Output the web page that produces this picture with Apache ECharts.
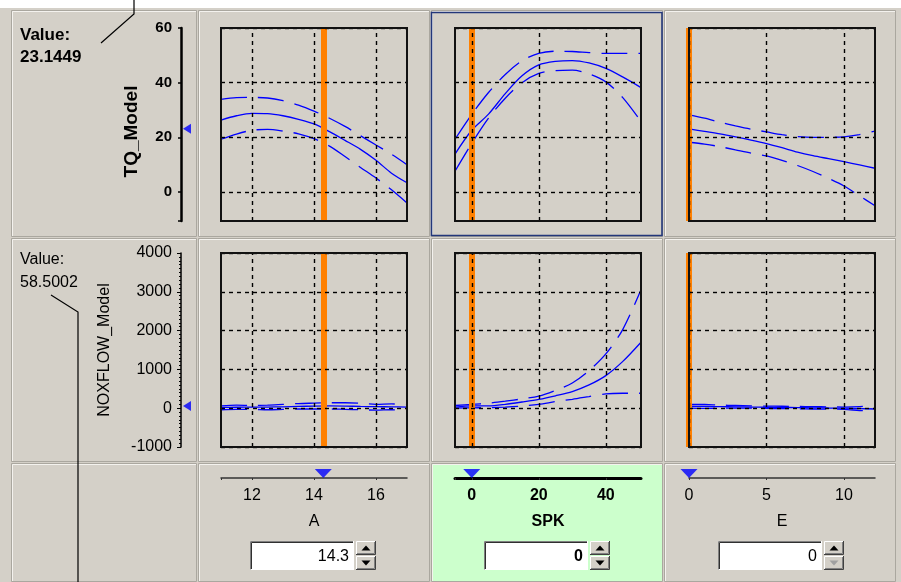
<!DOCTYPE html>
<html><head><meta charset="utf-8">
<script src="https://cdn.jsdelivr.net/npm/echarts@6/dist/echarts.min.js"></script>
<style>html,body{margin:0;padding:0;background:#d4d0c8}#c{width:901px;height:582px}</style>
</head><body><div id="c"></div><script>
// ---------- data ----------
const inputNames = ['A', 'SPK', 'E'];
const inputValues = [14.3, 0, 0];
const inputValueLabels = ['14.3', '0', '0'];
const inputRanges = [[11, 17], [-5, 50.5], [0, 12]];
const aTicks = [12, 14, 16];
const spkTicks = [0, 20, 40];
const eTicks = [0, 5, 10];
const outputNames = ['TQ_Model', 'NOXFLOW_Model'];
const outputValues = [23.1449, 58.5002];
const outputValueLabels = ['23.1449', '58.5002'];
const outputRanges = [[-10.6, 60], [-1000, 4000]];
const tqTicks = [0, 20, 40, 60];
const noxTicks = [-1000, 0, 1000, 2000, 3000, 4000];

const aX = [11, 11.5, 12, 12.5, 13, 13.5, 14, 14.5, 15, 15.5, 16, 16.5, 17];
const spkX = [-5, 0, 5, 10, 15, 20, 25, 30, 35, 40, 45, 50.5];
const eX = [0, 1, 2, 3, 4, 5, 6, 7, 8, 9, 10, 11, 12];

const tqA_mean  = [26.3, 27.9, 28.8, 28.7, 27.9, 26.6, 24.9, 22.1, 18.9, 15.6, 11.6, 6.9, 3.4];
const tqA_upper = [33.9, 34.5, 34.6, 34.4, 33.4, 31.8, 29.6, 27.0, 24.0, 20.6, 17.2, 13.8, 10.0];
const tqA_lower = [19.3, 21.2, 22.6, 22.9, 22.3, 21.3, 19.5, 16.8, 13.0, 9.0, 5.1, 0.8, -4.0];

const tqS_mean  = [13.9, 22.6, 28.5, 36.0, 42.5, 46.5, 47.8, 48.1, 47.2, 45.2, 42.1, 38.2];
const tqS_upper = [19.3, 28.4, 36.4, 43.0, 48.0, 50.7, 51.5, 51.4, 51.0, 50.7, 50.7, 50.7];
const tqS_lower = [7.6, 17.8, 27.0, 34.3, 40.0, 43.4, 44.4, 44.6, 43.2, 40.3, 34.6, 25.8];

const tqE_mean  = [23.1, 22.2, 21.3, 20.2, 19.0, 17.7, 16.2, 14.6, 13.3, 12.2, 11.1, 9.9, 8.7];
const tqE_upper = [28.2, 27.0, 25.5, 24.2, 23.0, 22.0, 21.0, 20.3, 20.0, 20.0, 20.2, 21.0, 22.3];
const tqE_lower = [18.2, 17.5, 16.6, 15.4, 14.2, 13.2, 11.6, 9.7, 7.5, 5.0, 2.2, -1.4, -5.0];

const noxA_mean  = [20, 25, 28, 30, 35, 45, 55, 60, 55, 45, 40, 35, 30];
const noxA_upper = [60, 80, 70, 80, 100, 120, 130, 140, 140, 130, 100, 110, 90];
const noxA_lower = [-40, -30, -30, -40, -30, -20, -20, -20, -30, -40, -50, -40, -50];

const noxS_mean  = [30, 58.5, 60, 100, 160, 227, 320, 430, 600, 840, 1200, 1700];
const noxS_upper = [70, 100, 130, 180, 240, 313, 460, 650, 970, 1400, 2020, 3050];
const noxS_lower = [0, 10, 15, 30, 55, 100, 170, 230, 300, 370, 385, 385];

const noxE_mean  = [50, 45, 40, 35, 30, 25, 20, 15, 10, 5, 0, -10, -20];
const noxE_upper = [100, 95, 80, 70, 60, 55, 50, 45, 40, 35, 30, 40, 70];
const noxE_lower = [0, -5, 0, 0, 0, -5, -10, -15, -20, -25, -30, -60, -80];

// ---------- assembly ----------
const inputX = [aX, spkX, eX];
const inputTicks = [aTicks, spkTicks, eTicks];
const outputTicks = [tqTicks, noxTicks];
const curves = [
  [[tqA_mean, tqA_upper, tqA_lower], [tqS_mean, tqS_upper, tqS_lower], [tqE_mean, tqE_upper, tqE_lower]],
  [[noxA_mean, noxA_upper, noxA_lower], [noxS_mean, noxS_upper, noxS_lower], [noxE_mean, noxE_upper, noxE_lower]]
];

const PLOT_LEFT = [221, 455, 689];
const PLOT_W = 186;
const PLOT_TOP = [28, 253];
const PLOT_H = [193, 194];
const GREEN = '#ccffcc';
const PANEL = '#d4d0c8';
const BLUE = '#0000ff';
const FONT = 'Liberation Sans, Arial, sans-serif';

const grid = [], xAxis = [], yAxis = [], series = [], graphic = [];
const zip = (xs, ys) => xs.map((x, i) => [x, ys[i]]);
const plain = v => String(v);

for (let r = 0; r < 2; r++) {
  for (let c = 0; c < 3; c++) {
    const gi = grid.length;
    grid.push({ left: PLOT_LEFT[c], top: PLOT_TOP[r], width: PLOT_W, height: PLOT_H[r],
      show: true, backgroundColor: c === 1 ? GREEN : '#ffffff', borderWidth: 0 });
    xAxis.push({ gridIndex: gi, type: 'value', min: inputRanges[c][0], max: inputRanges[c][1], show: false });
    yAxis.push({ gridIndex: gi, type: 'value', min: outputRanges[r][0], max: outputRanges[r][1], show: false });
    // current input value marker
    series.push({ type: 'line', xAxisIndex: gi, yAxisIndex: gi, data: [], z: 1, silent: true,
      markLine: { silent: true, symbol: ['none', 'none'], label: { show: false }, animation: false,
        lineStyle: { color: '#ff8000', width: 6, type: 'solid' },
        emphasis: { disabled: true },
        data: [{ xAxis: inputValues[c] }] } });
    // grid lines
    series.push({ type: 'line', xAxisIndex: gi, yAxisIndex: gi, data: [], z: 2, silent: true,
      markLine: { silent: true, symbol: ['none', 'none'], label: { show: false }, animation: false,
        lineStyle: { color: '#000', width: 1.4, type: [4, 4] },
        emphasis: { disabled: true },
        data: inputTicks[c].map(v => ({ xAxis: v })).concat(outputTicks[r].map(v => ({ yAxis: v }))) } });
    const [m, u, l] = curves[r][c];
    const xs = inputX[c];
    [[m, 'solid'], [u, [26, 11]], [l, [26, 11]]].forEach(([vals, t]) => {
      series.push({ type: 'line', xAxisIndex: gi, yAxisIndex: gi, data: zip(xs, vals), z: 3,
        showSymbol: false, smooth: 0.3, silent: true,
        lineStyle: { color: BLUE, width: 1.3, type: t } });
    });
    graphic.push({ type: 'rect', z: 50, silent: true,
      shape: { x: PLOT_LEFT[c], y: PLOT_TOP[r], width: PLOT_W, height: PLOT_H[r] },
      style: { fill: null, stroke: '#111', lineWidth: 2 } });
  }
}

// left output axes
for (let r = 0; r < 2; r++) {
  const gi = grid.length;
  grid.push({ left: 181, top: PLOT_TOP[r], width: 12, height: PLOT_H[r], show: false });
  xAxis.push({ gridIndex: gi, type: 'value', min: 0, max: 1, show: false });
  const bold = r === 0;
  const ya = { gridIndex: gi, type: 'value', min: outputRanges[r][0], max: outputRanges[r][1], position: 'left',
    axisLine: { show: true, onZero: false, lineStyle: { color: '#000', width: bold ? 2.5 : 1.5 } },
    splitLine: { show: false },
    name: outputNames[r], nameLocation: 'middle', nameGap: bold ? 40 : 68,
    nameTextStyle: { color: '#000', fontFamily: FONT, fontSize: bold ? 19 : 16, fontWeight: bold ? 'bold' : 'normal',
      padding: bold ? [0, 14, 0, 0] : 0 } };
  if (r === 0) {
    ya.axisTick = { show: true, length: 3, customValues: [outputRanges[0][0]].concat(tqTicks), lineStyle: { color: '#000', width: 1.5 } };
    ya.axisLabel = { customValues: tqTicks, color: '#000', fontFamily: FONT, fontSize: 15, fontWeight: 'bold', margin: 9, formatter: plain };
  } else {
    ya.interval = 1000;
    ya.axisTick = { show: true, length: 4, lineStyle: { color: '#000', width: 1 } };
    ya.minorTick = { show: true, splitNumber: 10, length: 2, lineStyle: { color: '#000', width: 1 } };
    ya.axisLabel = { color: '#000', fontFamily: FONT, fontSize: 16, margin: 9, formatter: plain };
  }
  yAxis.push(ya);
  series.push({ type: 'scatter', xAxisIndex: gi, yAxisIndex: gi, data: [[0, outputValues[r]]], z: 5, silent: true,
    symbol: 'triangle', symbolRotate: 90, symbolSize: [10, 8], symbolOffset: [6, 0], itemStyle: { color: BLUE } });
}

// bottom input sliders
for (let c = 0; c < 3; c++) {
  const gi = grid.length;
  const bold = c === 1;
  grid.push({ left: PLOT_LEFT[c], width: PLOT_W, top: 469, height: 9, show: false });
  xAxis.push({ gridIndex: gi, type: 'value', min: inputRanges[c][0], max: inputRanges[c][1], position: 'bottom',
    axisLine: { show: true, onZero: false, lineStyle: { color: bold ? '#000' : '#333', width: bold ? 3 : 1.5 } },
    axisTick: { show: true, length: 2, customValues: [inputRanges[c][0]].concat(inputTicks[c]), lineStyle: { color: '#333' } },
    axisLabel: { customValues: inputTicks[c], color: '#000', fontFamily: FONT, fontSize: 16, fontWeight: bold ? 'bold' : 'normal', margin: 10, formatter: plain },
    splitLine: { show: false },
    name: inputNames[c], nameLocation: 'middle', nameGap: 36,
    nameTextStyle: { color: '#000', fontFamily: FONT, fontSize: 16, fontWeight: bold ? 'bold' : 'normal' } });
  yAxis.push({ gridIndex: gi, type: 'value', min: 0, max: 1, show: false });
  series.push({ type: 'scatter', xAxisIndex: gi, yAxisIndex: gi, data: [[inputValues[c], 0.5]], z: 5, silent: true,
    symbol: 'triangle', symbolRotate: 180, symbolSize: [17, 9], itemStyle: { color: BLUE } });
}

// ---------- UI chrome (graphic) ----------
const bg = [];
bg.push({ type: 'rect', shape: { x: 0, y: 0, width: 901, height: 8 }, style: { fill: '#ffffff' } });
const colsX = [[11, 196], [198, 429], [431, 662], [664, 895]];
const rowsY = [[10, 236], [238, 461], [463, 581]];
rowsY.forEach((ry, ri) => colsX.forEach((cx, ci) => {
  const fill = (ri === 2 && ci === 2) ? GREEN : PANEL;
  bg.push({ type: 'rect', shape: { x: cx[0] + 0.5, y: ry[0] + 0.5, width: cx[1] - cx[0], height: ry[1] - ry[0] },
    style: { fill: fill, stroke: '#aaa79f', lineWidth: 1 } });
  bg.push({ type: 'polyline', shape: { points: [[cx[0] + 1.5, ry[1]], [cx[0] + 1.5, ry[0] + 1.5], [cx[1], ry[0] + 1.5]] },
    style: { stroke: '#f4f2ee', lineWidth: 1, fill: null } });
}));
graphic.push({ type: 'group', z: -10, silent: true, children: bg });

// selected cell
graphic.push({ type: 'rect', z: 40, silent: true, shape: { x: 431.5, y: 12.5, width: 230.5, height: 223 },
  style: { fill: null, stroke: '#23377a', lineWidth: 1.6 } });

// value boxes and spinners
for (let c = 0; c < 3; c++) {
  const bx = PLOT_LEFT[c] + 29, by = 541, bw = 104, bh = 29;
  const sx = bx + bw + 2, sw = 20;
  const bold = c === 1;
  const kids = [
    { type: 'rect', shape: { x: bx, y: by, width: bw, height: bh }, style: { fill: '#ffffff' } },
    { type: 'polyline', shape: { points: [[bx + 0.5, by + bh], [bx + 0.5, by + 0.5], [bx + bw, by + 0.5]] }, style: { stroke: '#808080', fill: null, lineWidth: 1 } },
    { type: 'polyline', shape: { points: [[bx + 1.5, by + bh - 1], [bx + 1.5, by + 1.5], [bx + bw - 1, by + 1.5]] }, style: { stroke: '#303030', fill: null, lineWidth: 1 } },
    { type: 'polyline', shape: { points: [[bx + 0.5, by + bh - 0.5], [bx + bw - 0.5, by + bh - 0.5], [bx + bw - 0.5, by]] }, style: { stroke: '#ffffff', fill: null, lineWidth: 1 } },
    { type: 'text', style: { text: inputValueLabels[c], x: bx + bw - 5, y: by + bh / 2 + 1, align: 'right', verticalAlign: 'middle',
      font: (bold ? 'bold ' : '') + '16px ' + FONT, fill: '#000' } }
  ];
  [0, 1].forEach(k => {
    const y0 = by + k * 15, h = 14;
    kids.push({ type: 'rect', shape: { x: sx, y: y0, width: sw, height: h }, style: { fill: PANEL } });
    kids.push({ type: 'polyline', shape: { points: [[sx + 0.5, y0 + h], [sx + 0.5, y0 + 0.5], [sx + sw, y0 + 0.5]] }, style: { stroke: '#ffffff', fill: null } });
    kids.push({ type: 'polyline', shape: { points: [[sx, y0 + h - 0.5], [sx + sw - 0.5, y0 + h - 0.5], [sx + sw - 0.5, y0]] }, style: { stroke: '#404040', fill: null } });
    kids.push({ type: 'polyline', shape: { points: [[sx + 1, y0 + h - 1.5], [sx + sw - 1.5, y0 + h - 1.5], [sx + sw - 1.5, y0 + 1]] }, style: { stroke: '#808080', fill: null } });
    const cx = sx + sw / 2, cy = y0 + h / 2;
    const pts = k === 0 ? [[cx - 4.5, cy + 2.5], [cx + 4.5, cy + 2.5], [cx, cy - 2.5]] : [[cx - 4.5, cy - 2.5], [cx + 4.5, cy - 2.5], [cx, cy + 2.5]];
    kids.push({ type: 'polygon', shape: { points: pts }, style: { fill: (c === 2 && k === 1) ? '#a0a0a0' : '#000' } });
  });
  graphic.push({ type: 'group', z: 10, silent: true, children: kids });
}

// output value readouts
graphic.push({ type: 'group', z: 10, silent: true, children: [
  { type: 'text', style: { text: 'Value:', x: 20, y: 35, verticalAlign: 'middle', font: 'bold 17px ' + FONT, fill: '#000' } },
  { type: 'text', style: { text: outputValueLabels[0], x: 20, y: 57, verticalAlign: 'middle', font: 'bold 17px ' + FONT, fill: '#000' } },
  { type: 'text', style: { text: 'Value:', x: 20, y: 260, verticalAlign: 'middle', font: '16px ' + FONT, fill: '#000' } },
  { type: 'text', style: { text: outputValueLabels[1], x: 20, y: 283, verticalAlign: 'middle', font: '16px ' + FONT, fill: '#000' } }
] });

// annotation leader lines
graphic.push({ type: 'polyline', z: 100, silent: true, shape: { points: [[134, 0], [134, 14], [101, 43]] }, style: { stroke: '#000', lineWidth: 1.2, fill: null } });
graphic.push({ type: 'polyline', z: 100, silent: true, shape: { points: [[51, 295], [78, 312], [78, 582]] }, style: { stroke: '#000', lineWidth: 1.2, fill: null } });

const chart = echarts.init(document.getElementById('c'), null, { renderer: 'canvas', width: 901, height: 582 });
chart.setOption({
  animation: false,
  backgroundColor: PANEL,
  grid, xAxis, yAxis, series, graphic
});
</script></body></html>
